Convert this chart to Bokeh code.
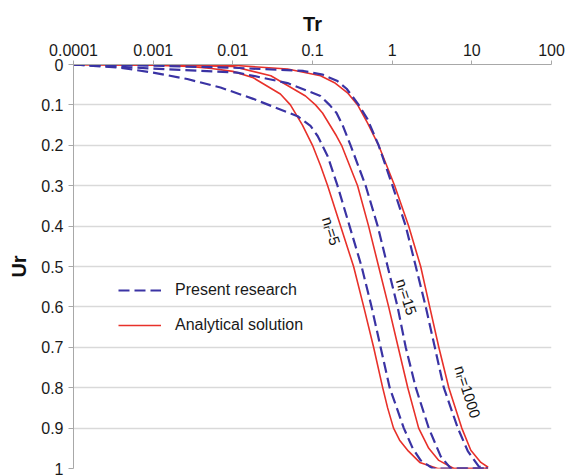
from bokeh.plotting import figure
from bokeh.models import Range1d, FixedTicker, Legend, LegendItem, CustomJSTickFormatter
from bokeh.core.properties import value
from bokeh.embed import file_html
from bokeh.resources import INLINE

# ---- data ----
x_ticks = [0.0001, 0.001, 0.01, 0.1, 1, 10, 100]
x_tick_labels = ["0.0001", "0.001", "0.01", "0.1", "1", "10", "100"]
y_ticks = [0, 0.1, 0.2, 0.3, 0.4, 0.5, 0.6, 0.7, 0.8, 0.9, 1.0]
y_tick_labels = ["0", "0.1", "0.2", "0.3", "0.4", "0.5", "0.6", "0.7", "0.8", "0.9", "1"]

# Analytical solution, n_r = 5
ana5_tr = [0.0001, 0.001, 0.0029, 0.0054, 0.01, 0.0181, 0.0395, 0.0528, 0.0748, 0.1, 0.126, 0.155, 0.225, 0.328,
           0.44, 0.585, 0.76, 0.877, 1.04, 1.24, 1.6, 2.22, 3.73, 16]
ana5_ur = [0.0, 0.002, 0.005, 0.01, 0.017, 0.033, 0.073, 0.1, 0.15, 0.2, 0.25, 0.3, 0.4, 0.5,
           0.6, 0.7, 0.8, 0.85, 0.9, 0.93, 0.957, 0.985, 1.0, 1.0]
# Present research, n_r = 5
pre5_tr = [0.0001, 0.000385, 0.001, 0.00268, 0.007, 0.018, 0.065, 0.0944, 0.116, 0.155, 0.206, 0.292, 0.413,
           0.552, 0.716, 0.931, 1.40, 1.81, 2.28, 3.23, 16]
pre5_ur = [0.0, 0.008, 0.02, 0.036, 0.057, 0.085, 0.128, 0.152, 0.177, 0.227, 0.3, 0.4, 0.5,
           0.6, 0.7, 0.8, 0.9, 0.95, 0.98, 1.0, 1.0]

# Analytical solution, n_r = 15
ana15_tr = [0.0001, 0.001, 0.01, 0.03, 0.0817, 0.109, 0.1336, 0.2004, 0.2317, 0.368, 0.506, 0.676, 0.904,
            1.19, 1.57, 2.15, 2.88, 3.85, 5.94, 16]
ana15_ur = [0.0, 0.001, 0.005, 0.028, 0.078, 0.1, 0.12, 0.177, 0.2, 0.3, 0.4, 0.5, 0.6,
            0.7, 0.8, 0.9, 0.95, 0.98, 1.0, 1.0]
# Present research, n_r = 15
pre15_tr = [0.0001, 0.001, 0.0114, 0.018, 0.0486, 0.126, 0.1636, 0.2004, 0.2385, 0.3006, 0.465, 0.658, 0.877,
            1.17, 1.48, 1.98, 2.88, 4.07, 5.44, 16]
pre15_ur = [0.0, 0.01, 0.02, 0.028, 0.046, 0.078, 0.1, 0.12, 0.15, 0.2, 0.3, 0.4, 0.5,
            0.6, 0.7, 0.8, 0.9, 0.97, 1.0, 1.0]

# Analytical solution, n_r = 1000
ana1000_tr = [0.0001, 0.01, 0.0486, 0.126, 0.189, 0.275, 0.368, 0.492, 0.676, 1.075, 1.61, 2.28, 2.96,
              3.85, 5.14, 7.48, 9.71, 12.98, 16]
ana1000_ur = [0.0, 0.002, 0.011, 0.028, 0.045, 0.07, 0.1, 0.145, 0.2, 0.3, 0.4, 0.5, 0.6,
              0.7, 0.8, 0.9, 0.955, 0.985, 0.997]
# Present research, n_r = 1000
pre1000_tr = [0.0001, 0.001, 0.01, 0.077, 0.134, 0.206, 0.268, 0.328, 0.38, 0.492, 0.676, 1.01, 1.48, 1.98,
              2.64, 3.43, 4.45, 6.67, 8.9, 12.2, 16]
pre1000_ur = [0.0, 0.003, 0.008, 0.016, 0.025, 0.041, 0.06, 0.083, 0.1, 0.136, 0.2, 0.3, 0.4, 0.5,
              0.6, 0.7, 0.8, 0.9, 0.957, 0.995, 1.0]

curve_labels = ["n\u1d63=5", "n\u1d63=15", "n\u1d63=1000"]
curve_label_tr = [0.173, 1.52, 8.9]
curve_label_ur = [0.412, 0.575, 0.81]

legend_labels = ["Present research", "Analytical solution"]

RED = "#e8312a"
BLUE = "#3a33a4"
FONT = "Liberation Sans"

p = figure(width=572, height=476, x_axis_type="log", x_axis_location="above",
           x_range=Range1d(1e-4, 100), y_range=Range1d(1, 0),
           output_backend="svg", toolbar_location=None,
           min_border_left=73, min_border_right=21, min_border_top=64, min_border_bottom=8)
p.outline_line_color = None
p.background_fill_color = "white"
p.xgrid.visible = False
p.ygrid.ticker = FixedTicker(ticks=y_ticks)
p.ygrid.grid_line_color = "#d9d9d9"
p.ygrid.grid_line_width = 1.5

xa = p.xaxis[0]
xa.ticker = FixedTicker(ticks=x_ticks)
xa.formatter = CustomJSTickFormatter(args=dict(tvals=x_ticks, tlabels=x_tick_labels), code="""
let best = 0, bd = Infinity;
for (let i = 0; i < tvals.length; i++) {
  const d = Math.abs(Math.log10(tick) - Math.log10(tvals[i]));
  if (d < bd) { bd = d; best = i; }
}
return tlabels[best];
""")
ya = p.yaxis[0]
ya.ticker = FixedTicker(ticks=y_ticks)
ya.formatter = CustomJSTickFormatter(args=dict(tvals=y_ticks, tlabels=y_tick_labels), code="""
let best = 0, bd = Infinity;
for (let i = 0; i < tvals.length; i++) {
  const d = Math.abs(tick - tvals[i]);
  if (d < bd) { bd = d; best = i; }
}
return tlabels[best];
""")
for ax, tout in ((xa, 4), (ya, 5)):
    ax.axis_line_color = "#a8a8a8"
    ax.major_tick_line_color = "#a8a8a8"
    ax.major_tick_out = tout
    ax.major_tick_in = 0
    ax.minor_tick_line_color = None
    ax.major_label_text_font = FONT
    ax.major_label_text_font_size = "16px"
    ax.major_label_text_color = "#1a1a1a"
    ax.axis_label_text_font = FONT
    ax.axis_label_text_font_size = "20px"
    ax.axis_label_text_font_style = "bold"
    ax.axis_label_text_color = "#111111"
    ax.major_label_standoff = 5
xa.axis_label = "Tr"
ya.axis_label = "Ur"
xa.axis_label_standoff = 6
ya.axis_label_standoff = 8

ana = [(ana5_tr, ana5_ur), (ana15_tr, ana15_ur), (ana1000_tr, ana1000_ur)]
pre = [(pre5_tr, pre5_ur), (pre15_tr, pre15_ur), (pre1000_tr, pre1000_ur)]
ana_r = [p.line(t, u, line_color=RED, line_width=1.6, line_join="round") for t, u in ana]
pre_r = [p.line(t, u, line_color=BLUE, line_width=2.2, line_dash="11 5", line_join="round") for t, u in pre]

p.text(x=curve_label_tr, y=curve_label_ur, text=curve_labels, angle=-1.26,
       text_align="center", text_baseline="middle", text_font=value(FONT),
       text_font_size="15px", text_color="#111111")

legend = Legend(items=[LegendItem(label=legend_labels[0], renderers=[pre_r[0]]),
                       LegendItem(label=legend_labels[1], renderers=[ana_r[0]])],
                location=(45, 133), padding=0, margin=0, spacing=15,
                glyph_width=43, glyph_height=20, label_height=20, label_standoff=14,
                label_text_font=FONT, label_text_font_size="16px", label_text_color="#1a1a1a",
                border_line_color=None, background_fill_alpha=0)
p.add_layout(legend)

open("out.html", "w").write(file_html(p, INLINE))
